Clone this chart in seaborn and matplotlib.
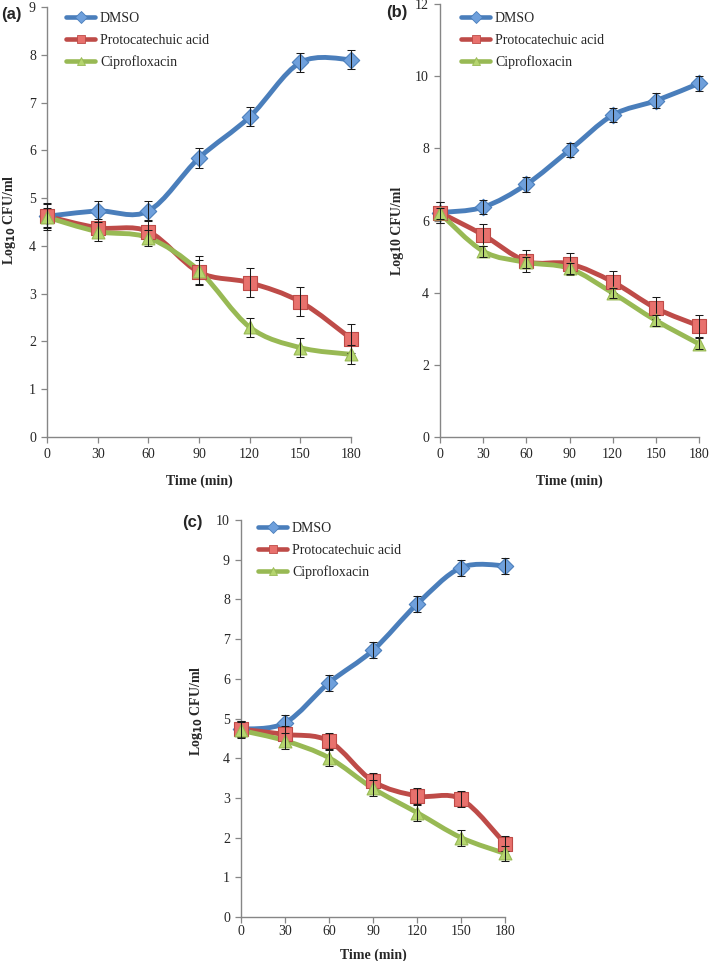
import numpy as np
import pandas as pd
import matplotlib
matplotlib.use("Agg")
import matplotlib.pyplot as plt
from matplotlib.path import Path
from matplotlib.patches import PathPatch
from matplotlib.lines import Line2D
import seaborn as sns

# ---------------- data ----------------
time_min = [0, 30, 60, 90, 120, 150, 180]
series_names = ["DMSO", "Protocatechuic acid", "Ciprofloxacin"]

# panel (a)
a_dmso = [4.62, 4.73, 4.73, 5.84, 6.70, 7.84, 7.90]
a_pca = [4.62, 4.38, 4.30, 3.45, 3.23, 2.83, 2.06]
a_cip = [4.60, 4.30, 4.17, 3.48, 2.30, 1.87, 1.73]
a_dmso_err = [0.28, 0.20, 0.20, 0.20, 0.20, 0.20, 0.20]
a_pca_err = [0.25, 0.18, 0.25, 0.25, 0.30, 0.30, 0.30]
a_cip_err = [0.20, 0.20, 0.17, 0.30, 0.20, 0.20, 0.20]

# panel (b)
b_dmso = [6.22, 6.37, 7.00, 7.95, 8.92, 9.32, 9.80]
b_pca = [6.22, 5.60, 4.87, 4.80, 4.30, 3.57, 3.08]
b_cip = [6.20, 5.15, 4.84, 4.67, 3.99, 3.23, 2.58]
b_dmso_err = [0.30, 0.20, 0.20, 0.20, 0.20, 0.20, 0.20]
b_pca_err = [0.30, 0.30, 0.30, 0.30, 0.30, 0.30, 0.30]
b_cip_err = [0.15, 0.15, 0.15, 0.15, 0.15, 0.15, 0.15]

# panel (c)
c_dmso = [4.73, 4.89, 5.90, 6.72, 7.88, 8.80, 8.85]
c_pca = [4.73, 4.60, 4.43, 3.42, 3.05, 2.97, 1.85]
c_cip = [4.70, 4.44, 4.01, 3.24, 2.63, 2.00, 1.60]
c_dmso_err = [0.20, 0.20, 0.20, 0.20, 0.20, 0.20, 0.20]
c_pca_err = [0.20, 0.20, 0.20, 0.20, 0.20, 0.20, 0.20]
c_cip_err = [0.20, 0.20, 0.20, 0.20, 0.20, 0.20, 0.20]

x_ticks = [0, 30, 60, 90, 120, 150, 180]
a_yticks = [0, 1, 2, 3, 4, 5, 6, 7, 8, 9]
b_yticks = [0, 2, 4, 6, 8, 10, 12]
c_yticks = [0, 1, 2, 3, 4, 5, 6, 7, 8, 9, 10]

# ---------------- style ----------------
sns.set_style("ticks")
plt.rcParams["font.family"] = ["Liberation Serif", "DejaVu Serif"]

line_colors = ["#4A7EBB", "#BE4B48", "#98B954"]
face_colors = ["#6FA0DC", "#E8716D", "#B5D56F"]
markers = ["D", "s", "^"]
msizes = [70, 95, 85]
spine_col = "#868686"

fig = plt.figure(figsize=(7.09, 9.61), dpi=100)
W, H = 709.0, 961.0


def add_ax(l, r, t, b):
    return fig.add_axes([l / W, 1 - b / H, (r - l) / W, (b - t) / H])


def smooth_path(x, y):
    pts = np.column_stack([x, y]).astype(float)
    n = len(pts)
    verts = [tuple(pts[0])]
    codes = [Path.MOVETO]
    for i in range(n - 1):
        p0 = pts[max(i - 1, 0)]
        p1 = pts[i]
        p2 = pts[i + 1]
        p3 = pts[min(i + 2, n - 1)]
        c1 = p1 + (p2 - p0) / 6.0
        c2 = p2 - (p3 - p1) / 6.0
        verts += [tuple(c1), tuple(c2), tuple(p2)]
        codes += [Path.CURVE4] * 3
    return Path(verts, codes)


def draw_panel(ax, vals, errs, yticks, ylabel, letter, letter_xy, legend_xy,
               tickpad, xlabelpad, ylabel_y):
    df = pd.DataFrame({
        "time": np.tile(time_min, 3),
        "value": np.concatenate(vals),
        "err": np.concatenate(errs),
        "series": np.repeat(series_names, len(time_min)),
    })
    for i, name in enumerate(series_names):
        sub = df[df["series"] == name]
        patch = PathPatch(smooth_path(sub["time"].values, sub["value"].values),
                          facecolor="none", edgecolor=line_colors[i], lw=3.5,
                          capstyle="round", joinstyle="round", zorder=2 + i * 0.1,
                          clip_on=False)
        ax.add_patch(patch)
    for i, name in enumerate(series_names):
        sub = df[df["series"] == name]
        sns.scatterplot(data=sub, x="time", y="value", ax=ax, marker=markers[i],
                        s=msizes[i], color=face_colors[i], edgecolor=line_colors[i],
                        linewidth=0.8, zorder=4 + i, legend=False, clip_on=False)
        eb = ax.errorbar(sub["time"], sub["value"], yerr=sub["err"], fmt="none",
                         ecolor="#1a1a1a", elinewidth=0.75, capsize=3.2,
                         capthick=0.75, zorder=5 + i)
        for art in eb.get_children():
            art.set_clip_on(False)
    ax.set_xlim(0, 180)
    ax.set_ylim(yticks[0], yticks[-1])
    ax.set_xticks(x_ticks)
    ax.set_yticks(yticks)
    ax.set_xticklabels([str(t) for t in x_ticks])
    ax.set_yticklabels([str(t) for t in yticks])
    ax.set_xlabel("Time (min)", fontsize=10, fontweight="bold", labelpad=xlabelpad)
    ax.set_ylabel(ylabel, fontsize=10, fontweight="bold", labelpad=8)
    ax.yaxis.label.set_y(ylabel_y)
    ax.tick_params(axis="both", labelsize=10, length=4, width=0.9, color=spine_col,
                   direction="out", pad=4)
    ax.tick_params(axis="x", pad=tickpad)
    for s in ["top", "right"]:
        ax.spines[s].set_visible(False)
    for s in ["left", "bottom"]:
        ax.spines[s].set_color(spine_col)
        ax.spines[s].set_linewidth(1.0)

    handles = [Line2D([0], [0], color=line_colors[i], lw=3.3, marker=markers[i],
                      markersize=6, markerfacecolor=face_colors[i],
                      markeredgecolor=line_colors[i], markeredgewidth=0.6)
               for i in range(3)]
    fig.legend(handles, series_names, loc="upper left",
               bbox_to_anchor=(legend_xy[0] / W, 1 - legend_xy[1] / H),
               frameon=False, fontsize=10, handlelength=2.1, handletextpad=0.35,
               labelspacing=0.62, borderaxespad=0, borderpad=0)
    fig.text(letter_xy[0] / W, 1 - letter_xy[1] / H, letter, fontsize=12,
             fontweight="bold", family=["Liberation Sans", "DejaVu Sans"],
             ha="left", va="center")


ax_a = add_ax(47, 351, 7, 437)
draw_panel(ax_a, [a_dmso, a_pca, a_cip], [a_dmso_err, a_pca_err, a_cip_err],
           a_yticks, "Log$_{\\mathbf{10}}$ CFU/ml", "(a)", (1, 14), (66, 12),
           tickpad=4, xlabelpad=9.5, ylabel_y=0.505)

ax_b = add_ax(440, 699, 4, 437)
draw_panel(ax_b, [b_dmso, b_pca, b_cip], [b_dmso_err, b_pca_err, b_cip_err],
           b_yticks, "Log10 CFU/ml", "(b)", (386, 13), (461, 12),
           tickpad=4, xlabelpad=9.5, ylabel_y=0.476)

ax_c = add_ax(241, 505, 520, 917)
draw_panel(ax_c, [c_dmso, c_pca, c_cip], [c_dmso_err, c_pca_err, c_cip_err],
           c_yticks, "Log$_{\\mathbf{10}}$ CFU/ml", "(c)", (182, 523), (258, 522),
           tickpad=1.5, xlabelpad=8, ylabel_y=0.52)

fig.savefig("out.png", dpi=100)
